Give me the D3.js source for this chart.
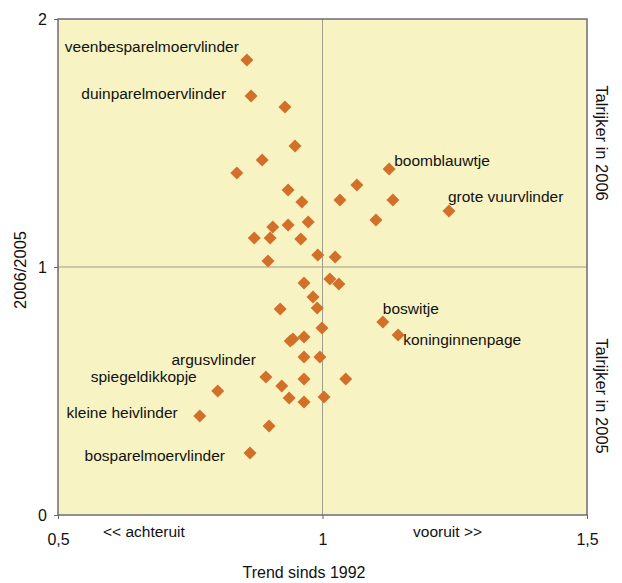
<!DOCTYPE html>
<html>
<head>
<meta charset="utf-8">
<script src="https://cdn.jsdelivr.net/npm/d3@7"></script>
<style>
  html, body { margin: 0; padding: 0; background: #fff; }
  text { font-family: "Liberation Sans", Arial, sans-serif; fill: #111; }
</style>
</head>
<body>
<svg id="chart" width="622" height="583"></svg>
<script>
// ---- data ----
const trend = [0.857,0.865,0.929,0.948,0.886,0.838,0.935,0.961,1.065,1.033,1.126,1.133,1.101,1.239,
  0.906,0.935,0.973,0.871,0.901,0.959,0.991,1.024,0.897,0.965,1.014,1.031,0.982,0.990,0.920,0.999,
  0.939,0.944,0.965,0.965,0.995,0.893,0.965,1.044,0.802,0.923,0.937,0.965,1.003,0.768,0.899,0.863,
  1.114,1.143];
const ratio = [1.835,1.690,1.645,1.488,1.431,1.379,1.310,1.262,1.331,1.270,1.395,1.270,1.190,1.226,
  1.161,1.169,1.181,1.117,1.117,1.113,1.048,1.040,1.024,0.935,0.952,0.931,0.879,0.835,0.831,0.754,
  0.702,0.710,0.718,0.637,0.637,0.556,0.548,0.548,0.500,0.520,0.472,0.456,0.476,0.399,0.359,0.250,
  0.778,0.726];
const names = ["veenbesparelmoervlinder","duinparelmoervlinder","","","","","","","","",
  "boomblauwtje","","","grote vuurvlinder","","","","","","","","","","","","","","","","",
  "","","","","","argusvlinder","","","spiegeldikkopje","","","","","kleine heivlinder","","bosparelmoervlinder",
  "boswitje","koninginnenpage"];
const xTicks = [0.5, 1, 1.5];
const xTickLabels = ["0,5", "1", "1,5"];
const yTicks = [0, 1, 2];
const yTickLabels = ["0", "1", "2"];

// ---- label placement (style) ----
const labelPos = {
  "veenbesparelmoervlinder": {anchor: "end", dx: -8, dy: -8},
  "duinparelmoervlinder": {anchor: "end", dx: -25, dy: 3},
  "boomblauwtje": {anchor: "start", dx: 5, dy: -3},
  "grote vuurvlinder": {anchor: "start", dx: -1, dy: -9},
  "argusvlinder": {anchor: "end", dx: -10, dy: -12},
  "spiegeldikkopje": {anchor: "end", dx: -21, dy: -9},
  "kleine heivlinder": {anchor: "end", dx: -22, dy: 2},
  "bosparelmoervlinder": {anchor: "end", dx: -25, dy: 8},
  "boswitje": {anchor: "start", dx: 0, dy: -8},
  "koninginnenpage": {anchor: "start", dx: 5, dy: 10}
};

const svg = d3.select("#chart");
const m = {left: 58, top: 19, right: 587, bottom: 515};
const x = d3.scaleLinear().domain([0.5, 1.5]).range([m.left, m.right]);
const y = d3.scaleLinear().domain([0, 2]).range([m.bottom, m.top]);

// plot background
svg.append("rect")
  .attr("x", m.left).attr("y", m.top)
  .attr("width", m.right - m.left).attr("height", m.bottom - m.top)
  .attr("fill", "#f8f3c2");

// reference lines
svg.append("line").attr("x1", x(1)).attr("x2", x(1)).attr("y1", y(0)).attr("y2", y(2))
  .attr("stroke", "#a19d8c").attr("stroke-width", 1);
svg.append("line").attr("x1", x(0.5)).attr("x2", x(1.5)).attr("y1", y(1)).attr("y2", y(1))
  .attr("stroke", "#a19d8c").attr("stroke-width", 1);

// axes
const xAxis = d3.axisBottom(x).tickValues(xTicks).tickSize(4).tickFormat((d, i) => xTickLabels[i]);
const yAxis = d3.axisLeft(y).tickValues(yTicks).tickSize(4).tickFormat((d, i) => yTickLabels[i]);

const gx = svg.append("g").attr("transform", `translate(0,${m.bottom})`).call(xAxis);
gx.select(".domain").remove();
gx.selectAll(".tick line").attr("stroke", "#666");
gx.selectAll(".tick text").attr("y", 19).attr("dy", "0.71em")
  .style("font-size", "16px").style("font-family", "Liberation Sans, Arial, sans-serif").attr("fill", "#111");

const gy = svg.append("g").attr("transform", `translate(${m.left},0)`).call(yAxis);
gy.select(".domain").remove();
gy.selectAll(".tick line").attr("stroke", "#666");
gy.selectAll(".tick text").attr("x", -11).attr("dy", "0.36em")
  .style("font-size", "16px").style("font-family", "Liberation Sans, Arial, sans-serif").attr("fill", "#111");

// border
svg.append("rect")
  .attr("x", m.left).attr("y", m.top)
  .attr("width", m.right - m.left).attr("height", m.bottom - m.top)
  .attr("fill", "none").attr("stroke", "#6b6b74").attr("stroke-width", 1.5);

// points
const pts = trend.map((t, i) => ({t, r: ratio[i], name: names[i]}));
const diamond = "M0,-6.5L6.5,0L0,6.5L-6.5,0Z";
svg.append("g").selectAll("path").data(pts).join("path")
  .attr("d", diamond)
  .attr("transform", d => `translate(${x(d.t)},${y(d.r)})`)
  .attr("fill", "#d2702a");

// labels
svg.append("g").selectAll("text").data(pts.filter(d => d.name)).join("text")
  .attr("x", d => x(d.t) + labelPos[d.name].dx)
  .attr("y", d => y(d.r) + labelPos[d.name].dy)
  .attr("text-anchor", d => labelPos[d.name].anchor)
  .style("font-size", "15.5px")
  .text(d => d.name);

// direction hints
svg.append("text").attr("x", 103).attr("y", 537).style("font-size", "15.5px").text("<< achteruit");
svg.append("text").attr("x", 482).attr("y", 537).attr("text-anchor", "end").style("font-size", "15.5px").text("vooruit >>");

// axis titles
svg.append("text").attr("x", 304).attr("y", 578).attr("text-anchor", "middle")
  .style("font-size", "16px").text("Trend sinds 1992");
svg.append("text").attr("transform", "translate(26,270) rotate(-90)").attr("text-anchor", "middle")
  .style("font-size", "16.5px").text("2006/2005");
svg.append("text").attr("transform", "translate(596,143) rotate(90)").attr("text-anchor", "middle")
  .style("font-size", "16.5px").text("Talrijker in 2006");
svg.append("text").attr("transform", "translate(596,396) rotate(90)").attr("text-anchor", "middle")
  .style("font-size", "16.5px").text("Talrijker in 2005");
</script>
</body>
</html>
